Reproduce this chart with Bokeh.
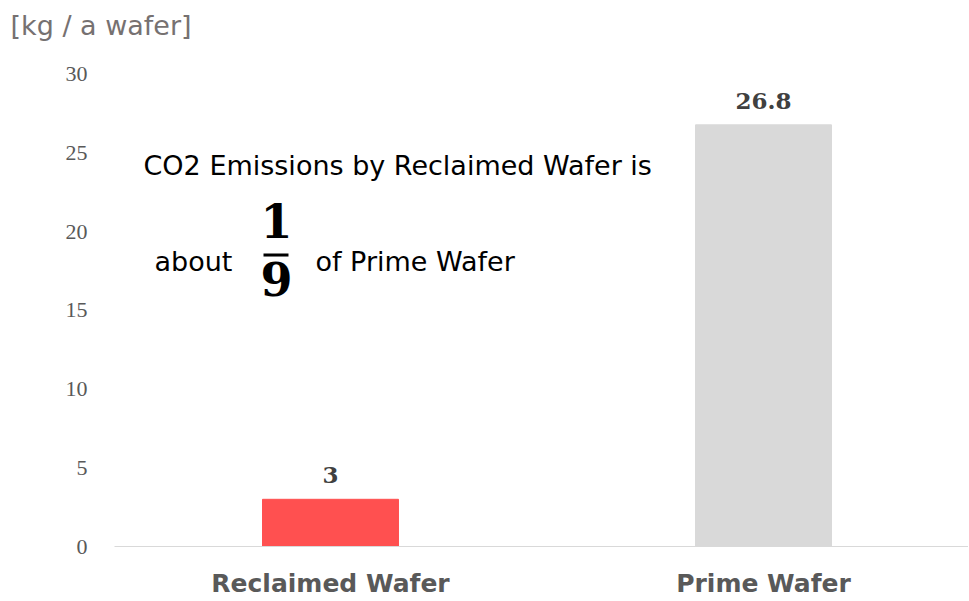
from bokeh.plotting import figure
from bokeh.models import ColumnDataSource, Label, BoxAnnotation, FixedTicker, Range1d
from bokeh.core.properties import value
from bokeh.embed import file_html
from bokeh.resources import INLINE

categories = ["Reclaimed Wafer", "Prime Wafer"]
values = [3.0, 26.8]
value_labels = ["3", "26.8"]
colors = ["#FF5050", "#D9D9D9"]
y_ticks = [0, 5, 10, 15, 20, 25, 30]
unit_label = "[kg / a wafer]"

xs = list(range(len(categories)))
src = ColumnDataSource(dict(x=xs, top=values, lab=value_labels, color=colors))

p = figure(width=968, height=600, output_backend="svg", toolbar_location=None,
           x_range=Range1d(-0.4988, 1.4734), y_range=Range1d(0, 32.16),
           min_border_left=114, min_border_right=0, min_border_top=40, min_border_bottom=54)
p.outline_line_color = None
p.grid.visible = False

p.title.text = unit_label
p.title.align = "left"
p.title.offset = -104
p.title.standoff = 0
p.title.text_font = "DejaVu Sans"
p.title.text_font_style = "normal"
p.title.text_font_size = "27px"
p.title.text_color = "#767171"

p.vbar(x="x", top="top", width=0.314, color="color", source=src)
p.text(x="x", y="top", text="lab", source=src, text_align="center", text_baseline="bottom",
       y_offset=-16, text_font=value("DejaVu Serif"), text_font_style="bold",
       text_font_size="23px", text_color="#404040")

p.xaxis.ticker = FixedTicker(ticks=xs)
p.xaxis.major_label_overrides = {i: c for i, c in enumerate(categories)}
p.xaxis.axis_line_color = "#D9D9D9"
p.xaxis.axis_line_width = 1
p.xaxis.major_tick_line_color = None
p.xaxis.minor_tick_line_color = None
p.xaxis.major_label_text_font = "DejaVu Sans"
p.xaxis.major_label_text_font_style = "bold"
p.xaxis.major_label_text_font_size = "25px"
p.xaxis.major_label_text_color = "#595959"
p.xaxis.major_label_standoff = 16

p.yaxis.ticker = FixedTicker(ticks=y_ticks)
p.yaxis.axis_line_color = None
p.yaxis.major_tick_line_color = None
p.yaxis.minor_tick_line_color = None
p.yaxis.major_label_text_font = "Liberation Serif"
p.yaxis.major_label_text_font_size = "22px"
p.yaxis.major_label_text_color = "#595959"
p.yaxis.major_label_standoff = 21

txt = dict(text_font="DejaVu Sans", text_font_size="27px", text_color="#000000",
           text_baseline="middle")
p.add_layout(Label(x=-0.4318, y=24.22, text="CO2 Emissions by Reclaimed Wafer is", **txt))
p.add_layout(Label(x=-0.4064, y=18.1, text="about", **txt))
p.add_layout(Label(x=-0.0346, y=18.1, text="of Prime Wafer", **txt))
frac = dict(text_font="DejaVu Serif", text_font_size="46px", text_font_style="bold",
            text_color="#000000", text_baseline="middle", text_align="center")
p.add_layout(Label(x=-0.1247, y=20.66, text="1", **frac))
p.add_layout(Label(x=-0.1247, y=16.97, text="9", **frac))
p.add_layout(BoxAnnotation(left=-0.1547, right=-0.097, bottom=18.43, top=18.62,
                           fill_color="#000000", fill_alpha=1, line_color=None))

open("out.html", "w").write(file_html(p, INLINE))
